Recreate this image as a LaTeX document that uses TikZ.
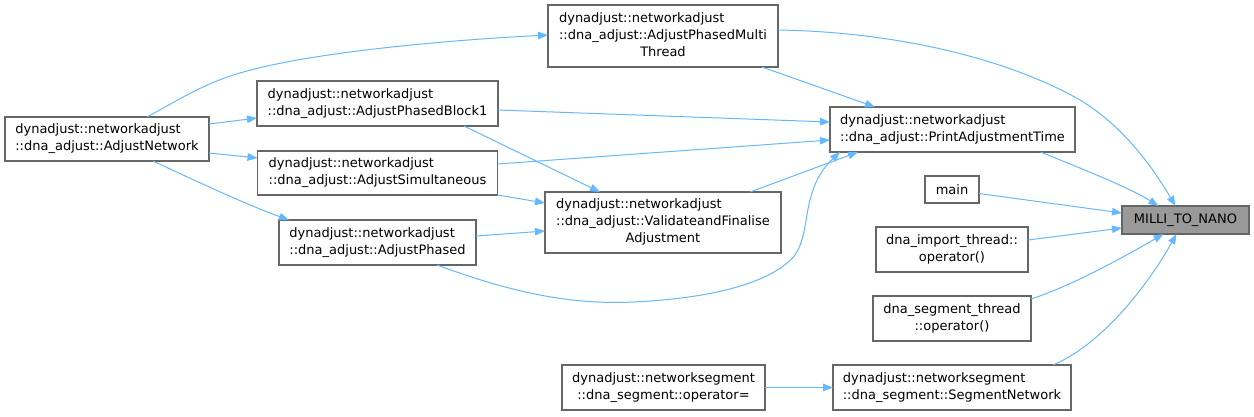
\documentclass[tikz,border=0pt]{standalone}
\usepackage{fontspec}
\setmainfont{DejaVu Sans}
\usetikzlibrary{arrows.meta,calc}
\definecolor{edgeblue}{HTML}{63B8FF}
\definecolor{boxgray}{HTML}{666666}
\definecolor{fillgray}{HTML}{999999}
\tikzset{
  fn/.style={draw=boxgray, line width=1.1pt, fill=white, inner sep=0pt, outer sep=0pt,
    font=\fontsize{13}{17}\selectfont, text=black},
  fnl/.style={fn, align=left},
  fnc/.style={fn, align=center},
  call/.style={draw=edgeblue, line width=1pt, -{Triangle[length=10pt,width=7.5pt]}},
}
\begin{document}
\begin{tikzpicture}[x=1pt,y=-1pt]
\useasboundingbox (0,0) rectangle (1254,416);

\node[fnl, minimum width=204pt, minimum height=44pt] (an) at (107,139)
  {dynadjust::networkadjust\\::dna\_adjust::AdjustNetwork};
\node[fnl, minimum width=241pt, minimum height=45pt] (b1) at (377.5,103.5)
  {dynadjust::networkadjust\\::dna\_adjust::AdjustPhasedBlock1};
\node[fnl, minimum width=240pt, minimum height=44pt] (sim) at (377.5,173)
  {dynadjust::networkadjust\\::dna\_adjust::AdjustSimultaneous};
\node[fnl, minimum width=197pt, minimum height=45pt] (ph) at (377.5,242.5)
  {dynadjust::networkadjust\\::dna\_adjust::AdjustPhased};
\node[fn, minimum width=230pt, minimum height=62pt] (mt) at (663,36)
  {\begin{tabular}{@{}l@{}}dynadjust::networkadjust\\::dna\_adjust::AdjustPhasedMulti\\\multicolumn{1}{@{}c@{}}{Thread}\end{tabular}};
\node[fnl, minimum width=245pt, minimum height=45pt] (pat) at (952.5,129.5)
  {dynadjust::networkadjust\\::dna\_adjust::PrintAdjustmentTime};
\node[fn, minimum width=236pt, minimum height=61pt] (val) at (663,222.5)
  {\begin{tabular}{@{}l@{}}dynadjust::networkadjust\\::dna\_adjust::ValidateandFinalise\\\multicolumn{1}{@{}c@{}}{Adjustment}\end{tabular}};
\node[fnc, minimum width=54pt, minimum height=27pt] (main) at (952,189.5) {main};
\node[fnc, fill=fillgray, minimum width=127pt, minimum height=28pt] (milli) at (1185.5,220) {MILLI\_TO\_NANO};
\node[fnc, minimum width=152pt, minimum height=45pt] (imp) at (952,249.5)
  {dna\_import\_thread::\\operator()};
\node[fnc, minimum width=158pt, minimum height=45pt] (seg) at (952,318.5)
  {dna\_segment\_thread\\::operator()};
\node[fnl, minimum width=238pt, minimum height=45pt] (sn) at (952,387.5)
  {dynadjust::networksegment\\::dna\_segment::SegmentNetwork};
\node[fnc, minimum width=203pt, minimum height=45pt] (op) at (663.5,387.5)
  {dynadjust::networksegment\\::dna\_segment::operator=};

% edges
\draw[call] ($(an.north)+(40,0)$) .. controls (180,99) and (205,83) .. (240,73)
  .. controls (310,52) and (450,40) .. ($(mt.west)+(0,-1)$);
\draw[call] ($(an.east)+(0,-15)$) -- ($(b1.west)+(0,14.5)$);
\draw[call] ($(an.east)+(0,14)$) -- ($(sim.west)+(0,-15)$);
\draw[call] ($(an.south)+(46,0)$) .. controls (200,183) and (250,206) .. ($(ph.north west)+(10,0)$);
\draw[call] ($(b1.east)+(0,6.5)$) -- ($(pat.west)+(0,-7.5)$);
\draw[call] ($(sim.east)+(0,-9)$) -- ($(pat.west)+(0,10.5)$);
\draw[call] ($(b1.south)+(86.5,0)$) -- ($(val.north)+(-63,0)$);
\draw[call] (sim.south east) -- ($(val.west)+(0,-19.5)$);
\draw[call] ($(ph.east)+(0,-6.5)$) -- ($(val.west)+(0,8.5)$);
\draw[call] ($(ph.south)+(59.5,0)$) .. controls (510,292) and (570,305) .. (633,302)
  .. controls (720,298) and (775,280) .. (795,255)
  .. controls (812,230) and (800,190) .. ($(pat.south west)+(10,0)$);
\draw[call] ($(val.north)+(87,0)$) -- ($(pat.south west)+(28,0)$);
\draw[call] ($(mt.south)+(99,0)$) -- ($(pat.north west)+(45,0)$);
\draw[call] ($(mt.east)+(0,-6)$) .. controls (900,32) and (1010,60) .. (1080,100)
  .. controls (1130,130) and (1160,180) .. ($(milli.north)+(-10,0)$);
\draw[call] ($(pat.south)+(88,0)$) .. controls (1085,170) and (1130,188) .. ($(milli.north)+(-27,0)$);
\draw[call] ($(main.east)+(0,4)$) -- ($(milli.west)+(0,-7)$);
\draw[call] ($(imp.east)+(0,-9.5)$) -- ($(milli.west)+(0,8)$);
\draw[call] ($(seg.east)+(0,-19.5)$) .. controls (1065,288) and (1110,265) .. ($(milli.south)+(-22,0)$);
\draw[call] ($(sn.north)+(101,0)$) .. controls (1100,345) and (1145,290) .. ($(milli.south)+(-9,0)$);
\draw[call] (op.east) -- (sn.west);
\end{tikzpicture}
\end{document}
